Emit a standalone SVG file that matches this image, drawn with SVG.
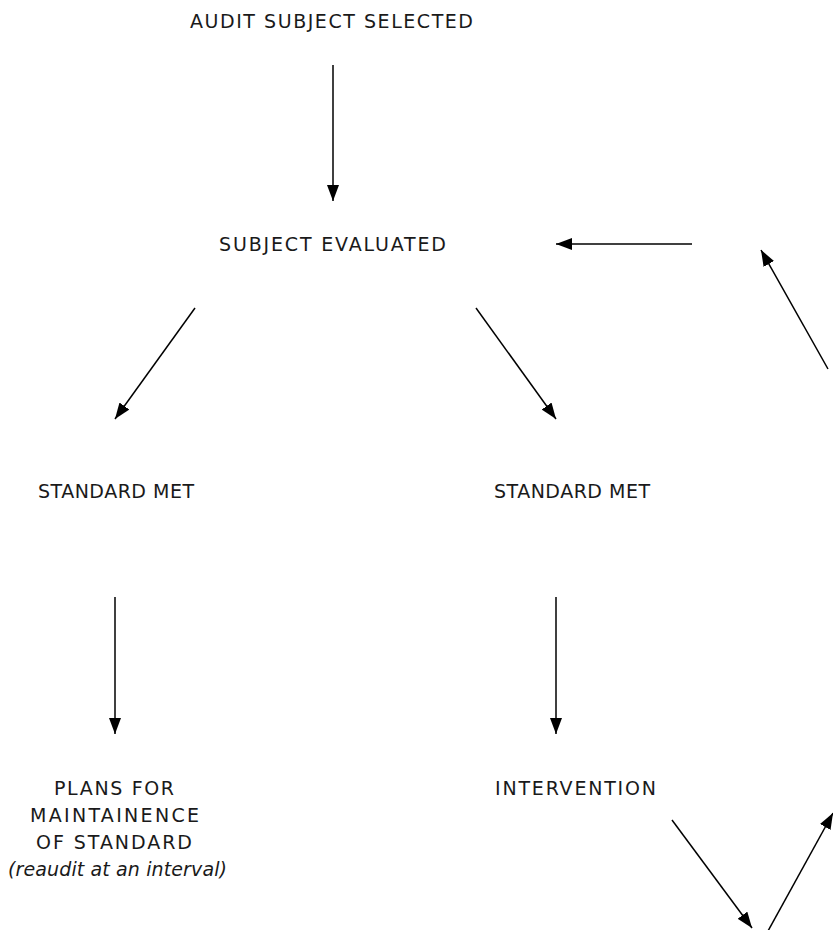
<svg xmlns="http://www.w3.org/2000/svg" width="833" height="930" viewBox="0 0 833 930">
<defs>
<marker id="ah" viewBox="0 0 16 12" refX="16" refY="6" markerWidth="16" markerHeight="12" markerUnits="userSpaceOnUse" orient="auto">
<path d="M0,0 L16,6 L0,12 Z" fill="#000"/>
</marker>
<style>
text{font-family:"DejaVu Sans","Open Sans","Liberation Sans",sans-serif;font-size:19px;fill:#1a1a1a;text-anchor:middle}
.it{font-style:italic}
.c line{stroke:#000;stroke-width:1.5;marker-end:url(#ah)}
</style>
</defs>
<rect width="833" height="930" fill="#fff"/>
<g id="n-audit"><text x="331.5" y="28" textLength="283" lengthAdjust="spacing">AUDIT SUBJECT SELECTED</text></g>
<g id="n-eval"><text x="332.5" y="251" textLength="227" lengthAdjust="spacing">SUBJECT EVALUATED</text></g>
<g id="n-met-left"><text x="116" y="498" textLength="156" lengthAdjust="spacing">STANDARD MET</text></g>
<g id="n-met-right"><text x="572" y="498" textLength="156" lengthAdjust="spacing">STANDARD MET</text></g>
<g id="n-plans"><text x="114" y="795" textLength="120" lengthAdjust="spacing">PLANS FOR</text><text x="114.5" y="822" textLength="169" lengthAdjust="spacing">MAINTAINENCE</text><text x="114" y="849" textLength="156" lengthAdjust="spacing">OF STANDARD</text><text class="it" x="117.5" y="876" textLength="219" lengthAdjust="spacing">(reaudit at an interval)</text></g>
<g id="n-intervention"><text x="575.5" y="795" textLength="161" lengthAdjust="spacing">INTERVENTION</text></g>
<g id="connectors" class="c">
<line x1="333" y1="65" x2="333" y2="201"/>
<line x1="692" y1="244" x2="556" y2="244"/>
<line x1="828" y1="369" x2="761" y2="250"/>
<line x1="195" y1="308" x2="115" y2="419"/>
<line x1="476" y1="308" x2="556" y2="419"/>
<line x1="115" y1="597" x2="115" y2="734"/>
<line x1="556" y1="597" x2="556" y2="734"/>
<line x1="672" y1="820" x2="752" y2="928"/>
<line x1="768" y1="931" x2="833" y2="813"/>
</g>
</svg>
